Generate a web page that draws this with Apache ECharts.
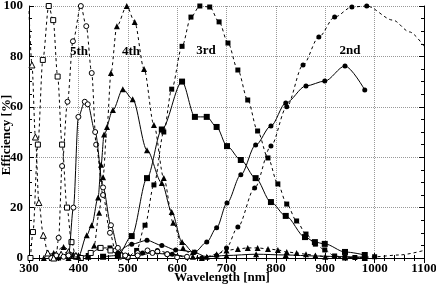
<!DOCTYPE html>
<html><head><meta charset="utf-8">
<script src="https://cdn.jsdelivr.net/npm/echarts/dist/echarts.min.js"></script>
<style>html,body{margin:0;padding:0;background:#fff}#c{width:436px;height:286px}</style>
</head><body><div id="c"></div>
<script>
// ---- data (wavelength nm, efficiency %) ----
const xTickLabels=[300,400,500,600,700,800,900,1000,1100];
const yTickLabels=[0,20,40,60,80,100];
const orderNames=["5th","4th","3rd","2nd"];
const xTitle="Wavelength [nm]";
const yTitle="Efficiency [%]";

// 2nd order theory (dashed, filled circles)
const t2X=[500,530,560,590,620,650,680,700,723,757,790,822,855,887,919,954,984];
const t2Y=[0,2,3,1.5,0.2,0,1,4,12.3,27.8,44.4,60,76.6,87.7,95.6,99.6,100];
const t2TailX=[1037,1071,1100];
const t2TailY=[94.4,89.7,84];
// 2nd order measured (solid, filled circles)
const m2X=[480,508,539,569,597,636,660,680,701,729,759,790,820,861,899,940,980];
const m2Y=[2,5.5,7,5,3.2,2.4,6.3,12,21.8,33,44.8,52.4,61.5,68.3,70.2,76.2,66.7];
// 3rd order theory (dashed, filled squares)
const t3X=[360,380,400,420,443,464,482,500,518,535,553,573,589,610,628,646,666,685,703,723,743,763,784,804,822,842,861,880,899,919,940,960,980,1000];
const t3Y=[0,1,0.5,1,4,4,1.5,0.3,3,13,29,50,67,84,95.6,100,99.6,93.7,85.3,74.6,62.7,50.4,39.7,29.4,21.4,14.7,9.5,5.5,3.2,0.8,0.3,0.2,0.3,0.5];
const t3TailX=[1050,1100];
const t3TailY=[1.2,3];
// 3rd order measured (solid, filled squares)
const m3X=[450,480,508,539,569,610,636,660,680,701,729,759,790,820,859,879,899,940,980];
const m3Y=[0.5,1,8.7,31.7,51,70,56,56,52,44.4,38.9,31.7,22.2,16.7,8.3,6.3,5.6,2.4,1.2];
// 4th order theory (dashed, filled triangles)
const t4X=[330,350,370,390,405,420,432,442,450,458,466,478,498,514,533,553,573,592,612,632,650,680,700,723,743,763,784,804,822,842,861,880,900,940,980];
const t4Y=[0,2,4.4,1.5,0,0.5,5,18,32,52,73.4,92,100,93.7,75,52.8,31.7,14,4,0.5,0,1.5,3,3.6,4,4,3.6,3.2,2.4,2,1.5,1,0.5,0.2,0];
// 4th order measured (solid, filled triangles)
const m4X=[380,400,417,427,440,446,452,470,490,510,539,569,589,610,632,660,700,760,820,880,940,980];
const m4Y=[0,0.5,9,13,24,37,49,58.7,67,63,42.8,29.8,18.3,6.3,2.4,0.5,1,1.5,1.2,0.8,0.5,0.3];
// 5th order theory (dashed, open circles)
const t5X=[345,355,360,367,378,389,405,416,427,436,450,464,475,485,500,520,540,560,580,600];
const t5Y=[0,1,8,36.5,62,86,100,92,73.4,45,25,10,3,0.5,0.5,2,3,2.5,1.5,0.3];
// 5th order measured (solid, open circles)
const m5X=[370,380,390,400,413,419,434,450,466,480,495,520,550,580,620];
const m5Y=[0.5,1,20,56,62,61,50,28,13,4,1,1,2,1.5,0.5];
// 6th order theory (dashed, open squares)
const t6X=[303,308,318,328,340,349,358,367,377,386,395,405,425,445,465,485];
const t6Y=[0,10.3,45,78.6,100,94.4,72,45,20,6.3,0.5,0,2,4,3,1];
// 7th order theory (dashed, open triangles); first point drawn without a marker
const t7HeadX=[300];
const t7HeadY=[98];
const t7X=[306,313,320,329,338,350,365,380,395];
const t7Y=[76.6,48,22,9,2,0,1.5,2.5,1];

// ---- chart ----
const FONT='"Liberation Serif","DejaVu Serif",serif';
function pts(xs,ys){return xs.map((x,i)=>[x,ys[i]]);}
function bare(xs,ys){return xs.map((x,i)=>({value:[x,ys[i]],symbol:'none'}));}
function ser(data,dashed,symbol,open,size){
  return {type:'line',data:data,smooth:0.3,smoothMonotone:'x',symbol:symbol,symbolSize:size||5,
    showAllSymbol:true,
    lineStyle:{color:'#000',width:1,type:dashed?[3,3]:'solid'},
    itemStyle:open?{color:'#fff',borderColor:'#000',borderWidth:1}:{color:'#000',borderWidth:0},
    emphasis:{disabled:true},z:dashed?2:3};
}
function txt(s,x,y,rot){
  return {type:'text',x:x,y:y,rotation:rot||0,z:10,
    style:{text:s,font:'bold 13px '+FONT,fill:'#000',align:'center',verticalAlign:'middle'}};
}
const chart=echarts.init(document.getElementById('c'),null,{renderer:'canvas'});
const axisLbl={color:'#000',fontFamily:FONT,fontWeight:'bold',fontSize:13};
chart.setOption({
  animation:false,
  grid:{left:29,right:12,top:6,bottom:28,containLabel:false,outerBoundsMode:'none'},
  xAxis:[{type:'value',min:300,max:1100,interval:100,
    axisLine:{lineStyle:{color:'#000',width:1}},
    axisTick:{inside:true,length:5,lineStyle:{color:'#000'}},
    minorTick:{show:true,splitNumber:5,length:3,lineStyle:{color:'#000'}},
    splitLine:{show:true,lineStyle:{type:'dotted',color:'#999'}},
    axisLabel:Object.assign({margin:4,formatter:v=>xTickLabels.includes(v)?String(v):''},axisLbl)},
   {type:'value',min:300,max:1100,interval:100,position:'top',
    axisLine:{lineStyle:{color:'#000',width:1}},
    axisTick:{inside:true,length:5,lineStyle:{color:'#000'}},
    minorTick:{show:true,splitNumber:5,length:3,lineStyle:{color:'#000'}},
    splitLine:{show:false},axisLabel:{show:false}}],
  yAxis:[{type:'value',min:0,max:100,interval:20,
    axisLine:{show:true,lineStyle:{color:'#000',width:1}},
    axisTick:{show:true,inside:true,length:5,lineStyle:{color:'#000'}},
    minorTick:{show:true,splitNumber:4,length:3,lineStyle:{color:'#000'}},
    splitLine:{show:true,lineStyle:{type:'dotted',color:'#999'}},
    axisLabel:Object.assign({margin:6,formatter:v=>yTickLabels.includes(v)?String(v):''},axisLbl)},
   {type:'value',min:0,max:100,interval:20,position:'right',
    axisLine:{show:true,lineStyle:{color:'#000',width:1}},
    axisTick:{show:true,inside:true,length:5,lineStyle:{color:'#000'}},
    minorTick:{show:true,splitNumber:4,length:3,lineStyle:{color:'#000'}},
    splitLine:{show:false},axisLabel:{show:false}}],
  series:[
    ser(pts(t2X,t2Y).concat(bare(t2TailX,t2TailY)),true,'circle',false,5),
    ser(pts(m2X,m2Y),false,'circle',false,5),
    ser(pts(t3X,t3Y).concat(bare(t3TailX,t3TailY)),true,'rect',false,5),
    ser(pts(m3X,m3Y),false,'rect',false,6),
    ser(pts(t4X,t4Y),true,'triangle',false,6),
    ser(pts(m4X,m4Y),false,'triangle',false,6),
    ser(pts(t5X,t5Y),true,'circle',true,5),
    ser(pts(m5X,m5Y),false,'circle',true,5),
    ser(pts(t6X,t6Y),true,'rect',true,5),
    ser(bare(t7HeadX,t7HeadY).concat(pts(t7X,t7Y)),true,'triangle',true,6)
  ],
  graphic:[
    txt(orderNames[0],79,52),
    txt(orderNames[1],131,52),
    txt(orderNames[2],206,51),
    txt(orderNames[3],350,51),
    txt(xTitle,222,278),
    txt(yTitle,7,135,Math.PI/2)
  ]
});
</script>
</body></html>
